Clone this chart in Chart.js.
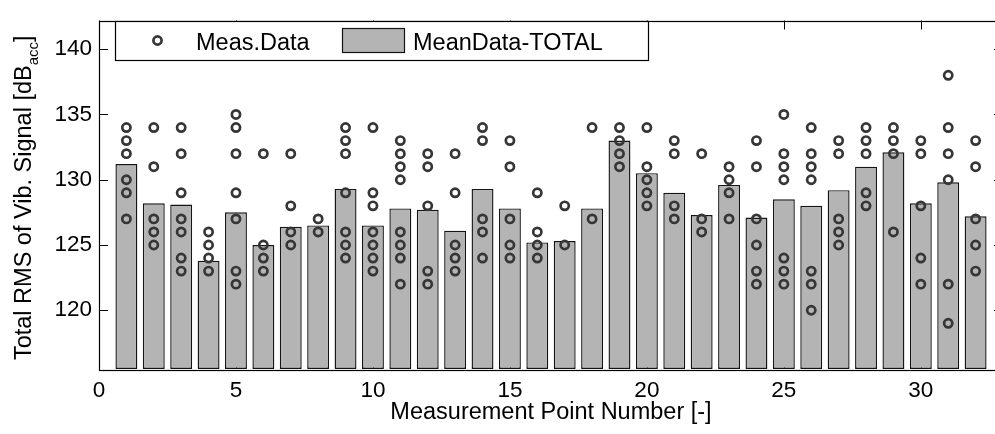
<!DOCTYPE html>
<html>
<head>
<meta charset="utf-8">
<script src="https://cdn.jsdelivr.net/npm/chart.js@4/dist/chart.umd.min.js"></script>
<style>
html,body{margin:0;padding:0;background:#fff;overflow:hidden;width:995px;height:434px}
#wrap{position:relative;width:1010px;height:434px}
</style>
</head>
<body>
<div id="wrap"><canvas id="c" width="1010" height="434"></canvas></div>
<script>
// ---- data ----
const pointNumbers = [1,2,3,4,5,6,7,8,9,10,11,12,13,14,15,16,17,18,19,20,21,22,23,24,25,26,27,28,29,30,31,32];
const meanTotal = [131.2,128.2,128.1,123.8,127.5,125.0,126.4,126.5,129.3,126.5,127.8,127.7,126.1,129.3,127.8,125.2,125.3,127.8,133.0,130.5,129.0,127.3,129.6,127.1,128.5,128.0,129.2,131.0,132.1,128.2,129.8,127.2];
const measData = [
  [134,133,132,130,129,127],
  [134,131,127,126,125],
  [134,132,129,127,126,124,123],
  [126,125,124,123],
  [135,134,132,129,127,123,122],
  [132,125,124,123],
  [132,128,126,125],
  [127,126],
  [134,133,132,129,126,125,124],
  [134,129,128,126,125,124,123],
  [133,132,131,130,126,125,124,122],
  [132,131,128,123,122],
  [132,129,125,124,123],
  [134,133,127,126,124],
  [133,131,127,125,124],
  [129,126,125,124],
  [128,125],
  [134,127],
  [134,133,132,131],
  [134,131,130,129,128],
  [133,132,128,127],
  [132,127,126],
  [131,130,129,127],
  [133,131,127,125,123,122],
  [135,132,131,130,124,123,122],
  [134,132,131,130,123,122,120],
  [133,132,127,126,125],
  [134,133,132,129,128],
  [134,133,132,126],
  [133,132,128,124,122],
  [138,134,132,130,122,119],
  [133,131,127,125,123]
];
const xTickValues = [0,5,10,15,20,25,30];
const yTickValues = [120,125,130,135,140];
const X_MIN = 0, X_MAX = 33;
const Y_MIN = 115.5, Y_MAX = 142.2;
const legendLabels = ['Meas.Data','MeanData-TOTAL'];
const xTitle = 'Measurement Point Number [-]';
const yTitleMain = 'Total RMS of Vib. Signal [dB';
const yTitleSub = 'acc';
const yTitleEnd = ']';

// ---- styles ----
const FONT = "'Liberation Sans', Arial, Helvetica, sans-serif";
const BAR_FILL = '#b4b4b4';
const BAR_EDGE = '#141414';
const MARK = '#363636';
const MARK_R = 4.1;
const MARK_W = 2.7;

const scatterPts = [];
measData.forEach((vals, i) => vals.forEach(v => scatterPts.push({x: pointNumbers[i], y: v})));
const barPts = pointNumbers.map((x, i) => ({x: x, y: meanTotal[i]}));

const framePlugin = {
  id: 'frame',
  beforeDatasetsDraw(chart) {
    const {ctx, chartArea: a, scales} = chart;
    const L = 9;
    ctx.save();
    ctx.strokeStyle = '#000';
    ctx.lineWidth = 1;
    ctx.beginPath();
    xTickValues.forEach(v => {
      const px = Math.round(scales.x.getPixelForValue(v)) + 0.5;
      ctx.moveTo(px, a.top); ctx.lineTo(px, a.top + L);
      ctx.moveTo(px, a.bottom); ctx.lineTo(px, a.bottom - L);
    });
    yTickValues.forEach(v => {
      const py = Math.round(scales.y.getPixelForValue(v)) + 0.5;
      ctx.moveTo(a.left, py); ctx.lineTo(a.left + L, py);
      ctx.moveTo(a.right, py); ctx.lineTo(a.right - L, py);
    });
    ctx.stroke();
    ctx.restore();
  },
  afterDatasetsDraw(chart) {
    const {ctx, chartArea: a} = chart;
    ctx.save();
    ctx.strokeStyle = '#000';
    ctx.lineWidth = 1.2;
    ctx.strokeRect(Math.round(a.left) + 0.5, Math.round(a.top) + 0.5, Math.round(a.right - a.left), Math.round(a.bottom - a.top));
    ctx.restore();
  },
  afterDraw(chart) {
    const ctx = chart.ctx;
    ctx.save();
    // legend
    ctx.fillStyle = '#fff';
    ctx.fillRect(115.5, 21.5, 533, 39);
    ctx.strokeStyle = '#000';
    ctx.lineWidth = 1.2;
    ctx.strokeRect(115.5, 21.5, 533, 39);
    ctx.beginPath();
    ctx.arc(157.5, 40.5, MARK_R, 0, Math.PI * 2);
    ctx.strokeStyle = MARK;
    ctx.lineWidth = MARK_W;
    ctx.stroke();
    ctx.fillStyle = BAR_FILL;
    ctx.fillRect(342.5, 28.5, 62, 24);
    ctx.strokeStyle = BAR_EDGE;
    ctx.lineWidth = 1.2;
    ctx.strokeRect(342.5, 28.5, 62, 24);
    ctx.fillStyle = '#000';
    ctx.font = '23.5px ' + FONT;
    ctx.textBaseline = 'alphabetic';
    ctx.textAlign = 'left';
    ctx.fillText(legendLabels[0], 196, 50);
    ctx.fillText(legendLabels[1], 413, 50);
    // y title with subscript
    const a = chart.chartArea;
    const cy = (a.top + a.bottom) / 2 + 3;
    ctx.translate(30.5, cy);
    ctx.rotate(-Math.PI / 2);
    const mainFont = '23.5px ' + FONT, subFont = '15px ' + FONT;
    ctx.font = mainFont; const w1 = ctx.measureText(yTitleMain).width; const w3 = ctx.measureText(yTitleEnd).width;
    ctx.font = subFont; const w2 = ctx.measureText(yTitleSub).width;
    let s = -(w1 + w2 + w3) / 2;
    ctx.font = mainFont; ctx.fillText(yTitleMain, s, 0);
    ctx.font = subFont; ctx.fillText(yTitleSub, s + w1, 7.5);
    ctx.font = mainFont; ctx.fillText(yTitleEnd, s + w1 + w2, 0);
    ctx.restore();
  }
};

new Chart(document.getElementById('c'), {
  type: 'bar',
  data: {
    datasets: [
      {
        type: 'scatter',
        label: legendLabels[0],
        data: scatterPts,
        pointStyle: 'circle',
        pointRadius: MARK_R,
        pointHoverRadius: MARK_R,
        pointBorderWidth: MARK_W,
        borderColor: MARK,
        backgroundColor: 'rgba(0,0,0,0)',
        order: 0
      },
      {
        type: 'bar',
        label: legendLabels[1],
        data: barPts,
        backgroundColor: BAR_FILL,
        borderColor: BAR_EDGE,
        borderWidth: 1.4,
        borderSkipped: false,
        barPercentage: 0.8,
        categoryPercentage: 1.0,
        base: Y_MIN,
        order: 1
      }
    ]
  },
  options: {
    responsive: false,
    animation: false,
    events: [],
    layout: {padding: {top: 9, right: 7, left: 0, bottom: 0}},
    plugins: {legend: {display: false}, tooltip: {enabled: false}},
    scales: {
      x: {
        type: 'linear',
        min: X_MIN, max: X_MAX,
        offset: false,
        grid: {display: false, drawTicks: false},
        border: {display: false},
        afterBuildTicks: s => { s.ticks = xTickValues.map(v => ({value: v})); },
        ticks: {padding: 8, color: '#000', font: {family: FONT, size: 22.5}, maxRotation: 0, autoSkip: false},
        title: {display: true, text: xTitle, color: '#000', font: {family: FONT, size: 23.5}, padding: {top: 0, bottom: 7}},
        afterFit: s => { s.height = 65; }
      },
      y: {
        min: Y_MIN, max: Y_MAX,
        grid: {display: false, drawTicks: false},
        border: {display: false},
        afterBuildTicks: s => { s.ticks = yTickValues.map(v => ({value: v})); },
        ticks: {padding: 7, color: '#000', font: {family: FONT, size: 22.5}},
        afterFit: s => { s.width = 99; }
      }
    }
  },
  plugins: [framePlugin]
});
</script>
</body>
</html>
